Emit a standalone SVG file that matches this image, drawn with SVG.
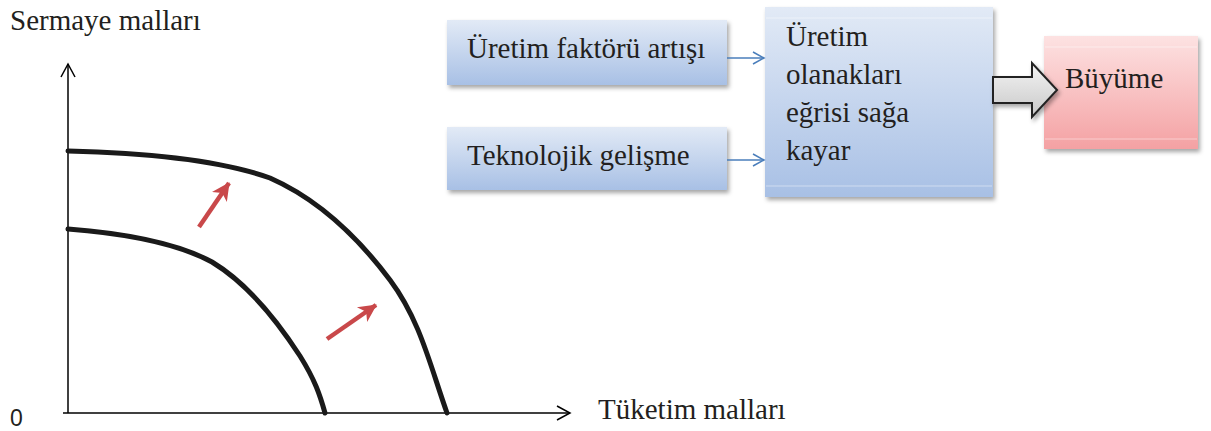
<svg xmlns="http://www.w3.org/2000/svg" width="1211" height="431" viewBox="0 0 1211 431">
<defs>
<linearGradient id="gBlue" x1="0" y1="0" x2="0" y2="1">
<stop offset="0" stop-color="#e2eaf6"/>
<stop offset="1" stop-color="#a8c0e5"/>
</linearGradient>
<linearGradient id="gRed" x1="0" y1="0" x2="0" y2="1">
<stop offset="0" stop-color="#fde2e2"/>
<stop offset="1" stop-color="#f4a1a3"/>
</linearGradient>
<linearGradient id="gGray" x1="0" y1="0" x2="0" y2="1">
<stop offset="0" stop-color="#f4f4f4"/>
<stop offset="1" stop-color="#c8c8c8"/>
</linearGradient>
<filter id="sh" x="-10%" y="-10%" width="130%" height="130%">
<feDropShadow dx="2" dy="3" stdDeviation="2" flood-color="#000" flood-opacity="0.35"/>
</filter>
<marker id="openBlue" markerWidth="14" markerHeight="14" refX="12" refY="7" orient="auto" markerUnits="userSpaceOnUse">
<path d="M1,1 L12,7 L1,13" fill="none" stroke="#4a7ebb" stroke-width="1.5"/>
</marker>
<marker id="axisHead" markerWidth="16" markerHeight="16" refX="14" refY="8" orient="auto" markerUnits="userSpaceOnUse">
<path d="M1,1 L14,8 L1,15" fill="none" stroke="#000" stroke-width="1.5"/>
</marker>
<marker id="redHead" markerWidth="20" markerHeight="20" refX="17" refY="10" orient="auto" markerUnits="userSpaceOnUse">
<path d="M0,1 L18,10 L0,19 L5,10 Z" fill="#c9484a"/>
</marker>
</defs>
<style>
.box{stroke:none}
.bevel{stroke:#ffffff;stroke-opacity:0.45;stroke-width:1;fill:none}
.curve{fill:none;stroke:#1a1a1a;stroke-width:5;stroke-linecap:round}
.red{fill:none;stroke:#c9484a;stroke-width:4.5}
</style>

<g font-family="'Liberation Serif', 'Times New Roman', serif" font-size="29" fill="#231f20">

<g id="axes">
<line x1="68" y1="413" x2="68" y2="64" stroke="#000" stroke-width="1.5" marker-end="url(#axisHead)"/>
<line x1="63" y1="413" x2="570" y2="413" stroke="#000" stroke-width="1.5" marker-end="url(#axisHead)"/>
<text x="10" y="30">Sermaye malları</text>
<text x="598" y="419">Tüketim malları</text>
<text x="10" y="426" font-family="'Liberation Sans', Arial, sans-serif" font-size="23">0</text>
</g>

<g id="curves">
<path class="curve" d="M68,151 C150,153 220,160 270,178 C320,200 360,240 390,280 C420,320 430,365 447,413"/>
<path class="curve" d="M68,229 C120,233 175,242 212,262 C250,285 280,325 300,356 C315,380 320,395 325,413"/>
</g>

<g id="shift-arrows">
<line class="red" x1="199" y1="227" x2="229" y2="183" marker-end="url(#redHead)"/>
<line class="red" x1="327" y1="339" x2="376" y2="305" marker-end="url(#redHead)"/>
</g>

<g id="node-uretim-faktoru">
<rect class="box" x="447" y="20" width="280" height="65" fill="url(#gBlue)" filter="url(#sh)"/>
<text x="467" y="58">Üretim faktörü artışı</text>
</g>

<g id="node-teknoloji">
<rect class="box" x="447" y="127" width="280" height="63" fill="url(#gBlue)" filter="url(#sh)"/>
<text x="467" y="165">Teknolojik gelişme</text>
</g>

<g id="node-egri">
<rect class="box" x="765" y="7" width="228" height="190" fill="url(#gBlue)" filter="url(#sh)"/>
<line class="bevel" x1="766" y1="18" x2="992" y2="18"/>
<line class="bevel" x1="766" y1="186" x2="992" y2="186"/>
<text x="786" y="46">Üretim</text>
<text x="786" y="84">olanakları</text>
<text x="786" y="122">eğrisi sağa</text>
<text x="786" y="160">kayar</text>
</g>

<g id="node-buyume">
<rect class="box" x="1044" y="36" width="154" height="113" fill="url(#gRed)" filter="url(#sh)"/>
<line class="bevel" x1="1045" y1="47" x2="1197" y2="47"/>
<line class="bevel" x1="1045" y1="139" x2="1197" y2="139"/>
<text x="1065" y="88">Büyüme</text>
</g>

</g>

<g id="connectors">
<line x1="727" y1="58" x2="764" y2="58" stroke="#4a7ebb" stroke-width="1.5" marker-end="url(#openBlue)"/>
<line x1="727" y1="160" x2="764" y2="160" stroke="#4a7ebb" stroke-width="1.5" marker-end="url(#openBlue)"/>
<path d="M993,77 L1032,77 L1032,63 L1057,90 L1032,117 L1032,103 L993,103 Z" fill="url(#gGray)" stroke="#222" stroke-width="2" stroke-linejoin="miter" filter="url(#sh)"/>
</g>
</svg>
